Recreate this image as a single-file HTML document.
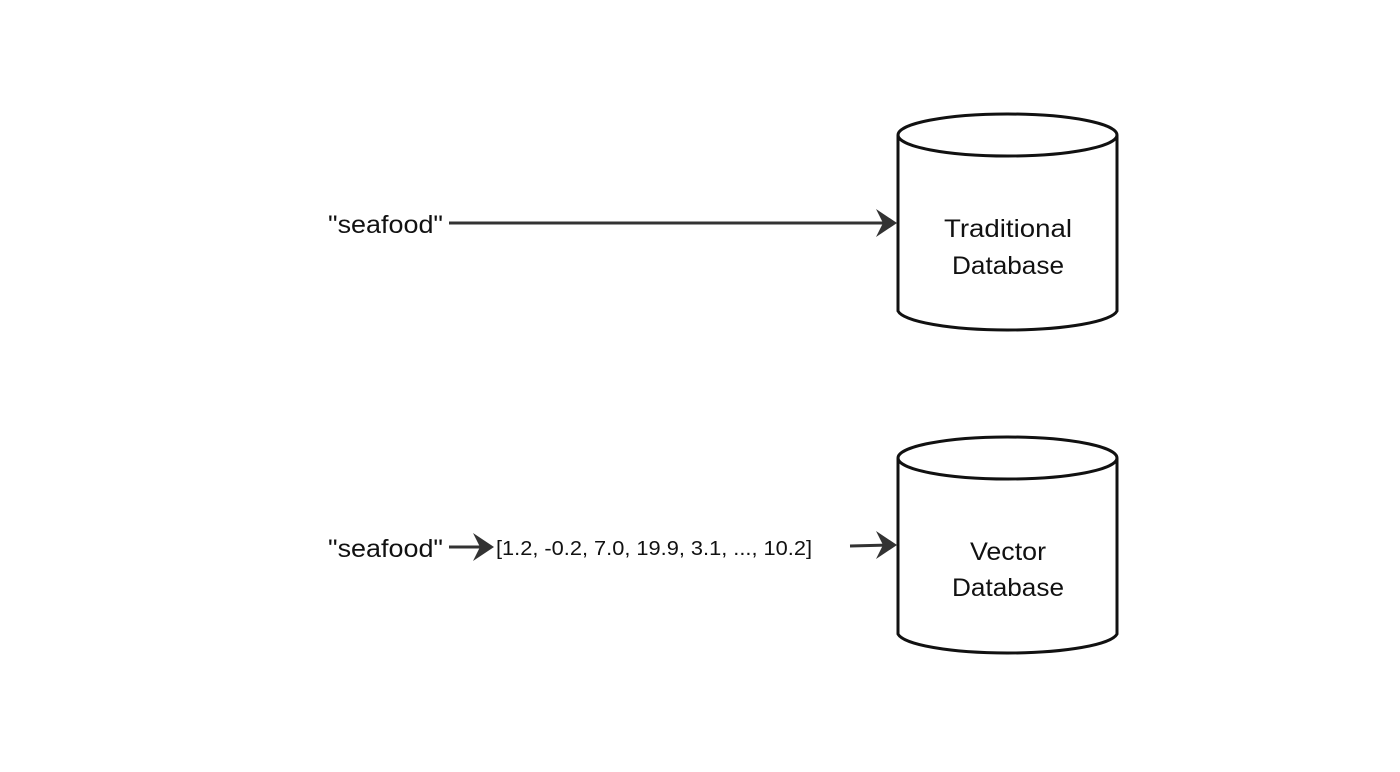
<!DOCTYPE html>
<html><head><style>body{margin:0;background:#fff}</style></head><body>
<svg width="1400" height="767" xmlns="http://www.w3.org/2000/svg" font-family="Liberation Sans, DejaVu Sans, sans-serif">
<rect width="1400" height="767" fill="#fff"/>
<g fill="#fff" stroke="#111" stroke-width="3">
<path d="M898 135 V311 A110 21 0 0 0 1117 311 V135"/>
<ellipse cx="1007.5" cy="135" rx="109.5" ry="21"/>
<path d="M898 458 V634 A110 21 0 0 0 1117 634 V458"/>
<ellipse cx="1007.5" cy="458" rx="109.5" ry="21"/>
</g>
<g stroke="#333" stroke-width="3" fill="none">
<line x1="449" y1="223" x2="892" y2="223"/>
<line x1="449" y1="547" x2="488" y2="547"/>
<line x1="850" y1="546" x2="892" y2="545"/>
</g>
<g fill="#333">
<path d="M897 223 L876 209 L883 223 L876 237 Z"/>
<path d="M494 547 L473 533 L480 547 L473 561 Z"/>
<path d="M897 545 L876 531 L883 545 L876 559 Z"/>
</g>
<g fill="#111" font-size="25">
<text x="328" y="233" textLength="115" lengthAdjust="spacingAndGlyphs">"seafood"</text>
<text x="328" y="557" textLength="115" lengthAdjust="spacingAndGlyphs">"seafood"</text>
<text x="944" y="237" textLength="128" lengthAdjust="spacingAndGlyphs">Traditional</text>
<text x="952" y="274" textLength="112" lengthAdjust="spacingAndGlyphs">Database</text>
<text x="970" y="560" textLength="76" lengthAdjust="spacingAndGlyphs">Vector</text>
<text x="952" y="596" textLength="112" lengthAdjust="spacingAndGlyphs">Database</text>
<text x="496" y="555" font-size="20" textLength="316" lengthAdjust="spacingAndGlyphs">[1.2, -0.2, 7.0, 19.9, 3.1, ..., 10.2]</text>
</g>
</svg>
</body></html>
